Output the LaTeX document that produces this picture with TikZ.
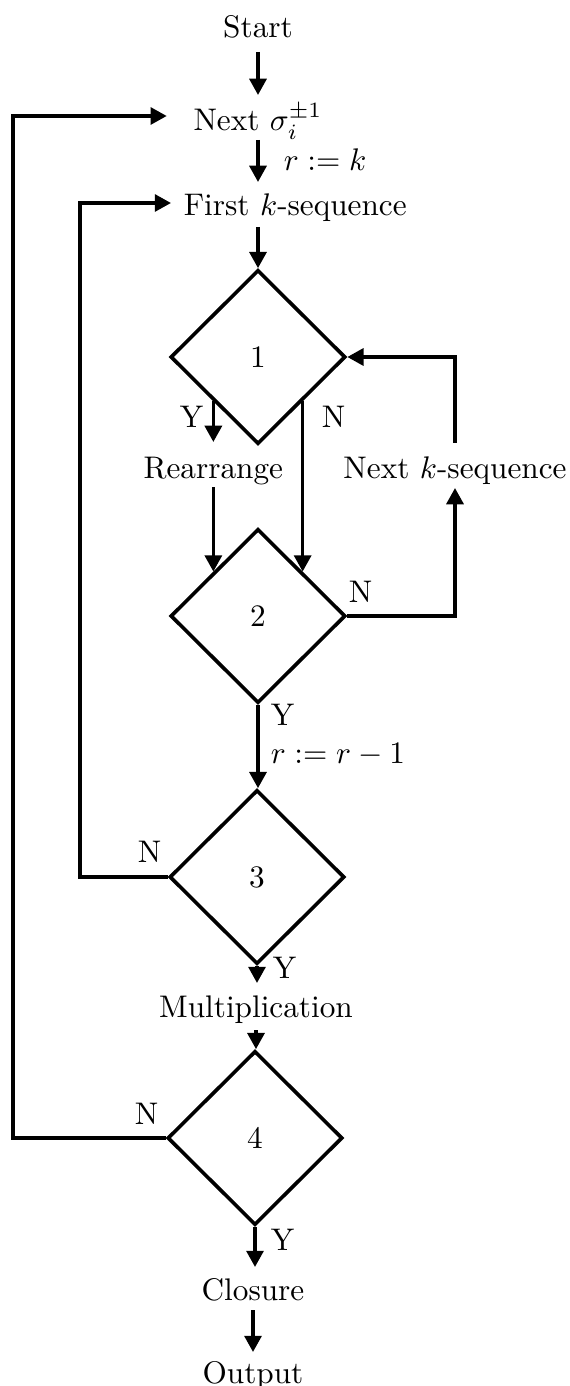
\documentclass[tikz,border=0pt]{standalone}
\usetikzlibrary{shapes.geometric,arrows.meta,calc}
\begin{document}
\begin{tikzpicture}[x=0.32pt,y=-0.32pt,
  line width=1.15pt,
  arr/.style={-{Triangle[width=5.4pt,length=5.2pt]}},
  txt/.style={inner sep=0pt,anchor=base},
  lab/.style={inner sep=0pt,anchor=base west},
  test/.style={diamond,draw,aspect=1,inner sep=0pt,
    minimum width=56pt,minimum height=55.7pt}]
\useasboundingbox (0,0) rectangle (570,1386);

% main column of steps and tests
\node[txt] (start) at (258,38) {Start};
\node[txt] (next) at (258,131) {Next $\sigma_i^{\pm1}$};
\node[lab] (first) at (182,216) {First $k$-sequence};
\node[test] (d1) at (258,357) {1};
\node[txt] (rearr) at (d1.south west |- 0,478) {Rearrange};
\node[txt] (nextk) at (455,478) {Next $k$-sequence};
\node[test] (d2) at (258,616) {2};
\node[test] (d3) at (257,877) {3};
\node[txt] (mult) at (256,1017) {Multiplication};
\node[test] (d4) at (255,1138) {4};
\node[txt] (closure) at (253,1300) {Closure};
\node[txt] (output) at (253,1383) {Output};

% branch labels
\node[lab] (rk) at (282,171) {$r:=k$};
\node[lab] (y1) at (178,428) {Y};
\node[lab] (n1) at (320,428) {N};
\node[lab] (n2) at (347,602) {N};
\node[lab] (y2) at (269,725) {Y};
\node[lab] (rr) at (269,763) {$r:=r-1$};
\node[lab] (n3) at (136,862) {N};
\node[lab] (y3) at (271,978) {Y};
\node[lab] (n4) at (133,1124) {N};
\node[lab] (y4) at (269,1250) {Y};

% corners of the two return loops
\coordinate (loopa) at (80,877);
\coordinate (loopb) at (13,1138);

% straight flow
\draw[arr] ($(start.base)+(0,14)$) -- ($(next.base)+(0,-36)$);
\draw[arr] ($(next.base)+(0,9)$) -- ($(next.base |- first.base)+(0,-34)$);
\draw[arr] ($(next.base |- first.base)+(0,11)$) -- (d1.north);
\draw[arr] (d1.south west) -- ($(rearr.base)+(0,-36)$);
\draw[arr] (d1.south east) -- (d2.north east);
\draw[arr] ($(rearr.base)+(0,9)$) -- (d2.north west);
\draw[arr] (d2.east) -| ($(nextk.base)+(0,10)$);
\draw[arr] ($(nextk.base)+(0,-35)$) |- (d1.east);
\draw[arr] (d2.south) -- (d2.south |- d3.north);
\draw[arr] (d3.south) -- ($(d3.south |- mult.base)+(0,-34)$);
\draw[arr] ($(mult.base)+(0,13)$) -- (mult.base |- d4.north);
\draw[arr] (d4.south) -- ($(d4.south |- closure.base)+(0,-33)$);
\draw[arr] ($(closure.base)+(0,10)$) -- ($(output.base)+(0,-31)$);

% return loops
\draw[arr] (d3.west) -- (loopa) |- ($(first.base west)+(-11,-13)$);
\draw[arr] (d4.west) -- (loopb) |- ($(next.base west)+(-25,-15)$);
\end{tikzpicture}
\end{document}
